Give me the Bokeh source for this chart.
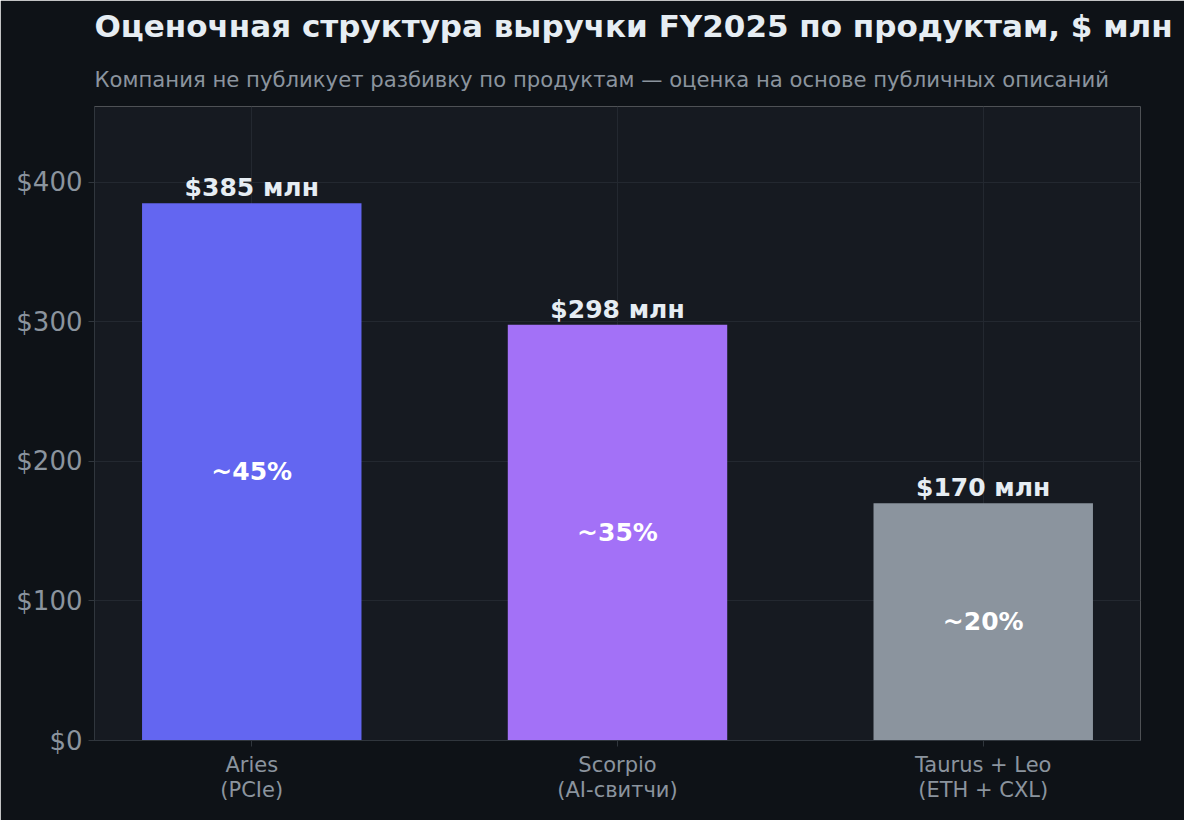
import numpy as np
from bokeh.plotting import figure
from bokeh.models import (ColumnDataSource, Range1d, FixedTicker, NumeralTickFormatter,
                          Title)
from bokeh.core.properties import value
from bokeh.embed import file_html
from bokeh.resources import INLINE

# данные
products = ["Aries\n(PCIe)", "Scorpio\n(AI-свитчи)", "Taurus + Leo\n(ETH + CXL)"]
revenue = [385, 298, 170]
share = [45, 35, 20]
colors = ["#6366f1", "#a371f7", "#8b949e"]
y_ticks = [0, 100, 200, 300, 400]

BG = "#0e1217"
PANEL = "#161a21"
GRID = "#232830"
MUTED = "#8b949e"
TEXT = "#e6edf3"
FONT = "DejaVu Sans"

xs = list(range(len(products)))
source = ColumnDataSource(data={
    'x': xs,
    'revenue': revenue,
    'half': [v / 2 for v in revenue],
    'color': colors,
    'value_label': [f"${v} млн" for v in revenue],
    'share_label': [f"~{s}%" for s in share],
})

p = figure(
    width=1184, height=820,
    x_range=Range1d(-0.43, 2.43),
    y_range=Range1d(0, max(revenue) * 1.18),
    output_backend="svg", toolbar_location=None,
    min_border_left=94, min_border_right=44, min_border_bottom=80, min_border_top=40,
)
p.background_fill_color = PANEL
p.border_fill_color = BG
p.outline_line_color = None

# заголовки
p.add_layout(Title(text="Компания не публикует разбивку по продуктам — оценка на основе публичных описаний",
                   text_font=FONT, text_font_size="21.2px", text_font_style="normal",
                   text_color=MUTED, align="left", standoff=30), "above")
p.add_layout(Title(text="Оценочная структура выручки FY2025 по продуктам, $ млн",
                   text_font=FONT, text_font_size="31px", text_font_style="bold",
                   text_color=TEXT, align="left", standoff=11), "above")

p.vbar(x='x', top='revenue', width=0.6, color='color', line_color=None, source=source)

p.text(x='x', y='revenue', text='value_label', source=source,
       text_align="center", text_baseline="bottom", y_offset=-1,
       text_font_size="25px", text_font_style="bold", text_color=TEXT, text_font=value(FONT))
p.text(x='x', y='half', text='share_label', source=source,
       text_align="center", text_baseline="middle",
       text_font_size="25px", text_font_style="bold", text_color="#ffffff", text_font=value(FONT))

# оси
p.xaxis.ticker = FixedTicker(ticks=xs)
p.xaxis.major_label_overrides = {i: name for i, name in enumerate(products)}
p.yaxis.ticker = FixedTicker(ticks=y_ticks)
p.yaxis.formatter = NumeralTickFormatter(format="$0")

for ax in (p.xaxis, p.yaxis):
    ax.axis_line_color = "#30363d"
    ax.major_tick_line_color = "#30363d"
    ax.major_tick_in = 0
    ax.major_tick_out = 6
    ax.minor_tick_line_color = None
    ax.major_label_text_color = MUTED
    ax.major_label_text_font = FONT
p.xaxis.major_label_text_font_size = "21px"
p.xaxis.major_label_text_line_height = 1.05
p.yaxis.major_label_text_font_size = "26px"
p.xaxis.major_label_standoff = 6
p.yaxis.major_label_standoff = 6

p.xgrid.ticker = FixedTicker(ticks=xs)
p.grid.grid_line_color = GRID
p.grid.grid_line_width = 1

open("out.html", "w").write(file_html(p, INLINE))
